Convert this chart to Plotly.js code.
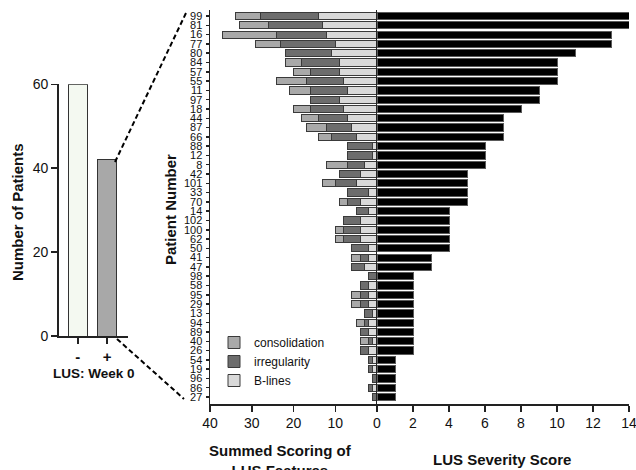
<!DOCTYPE html>
<html>
<head>
<meta charset="utf-8">
<script src="https://cdn.plot.ly/plotly-3.0.1.min.js"></script>
<style>html,body{margin:0;padding:0;background:#fff}#chart{width:636px;height:470px}</style>
</head>
<body>
<div id="chart"></div>
<script>
const patients = ['99','81','16','77','80','84','57','55','11','97','18','44','87','66','88','12','8','42','101','33','70','14','102','100','62','50','41','47','98','58','95','29','13','94','89','40','26','54','19','96','86','27'];
const severity = [14,14,13,13,11,10,10,10,9,9,8,7,7,7,6,6,6,5,5,5,5,4,4,4,4,4,3,3,2,2,2,2,2,2,2,2,2,1,1,1,1,1];
const bLines = [14,13,12,10,11,9,9,8,7,9,8,7,6,5,1,1,3,4,5,2,4,2,4,4,4,2,2,3,0,2,2,2,1,2,2,1,2,1,1,0,1,0];
const irregularity = [14,13,12,13,11,9,7,9,9,7,8,7,6,6,6,6,4,5,5,5,3,3,4,4,4,4,2,3,2,2,2,2,2,1,2,1,2,1,1,1,1,1];
const consolidation = [6,7,13,6,0,4,4,7,5,0,4,4,5,3,0,0,5,0,3,0,2,0,0,2,2,0,2,0,0,0,2,2,0,2,0,2,0,0,0,0,0,0];
const weekCats = ['-','+'];
const weekCounts = [60,42];
const leftTicks = [40,30,20,10,0];
const rightTicks = [2,4,6,8,10,12,14];

const nz = a => a.map(v => v === 0 ? null : v);
const W = 636, H = 470;
const px = x => x / W, py = y => 1 - y / H;
const FONT = 'Liberation Sans, Arial, sans-serif';
const edge = {color:'#3a3a3a', width:1};
const bw = 0.78;

const traces = [
  {type:'bar', orientation:'h', name:'B-lines', y:patients, x:nz(bLines), xaxis:'x', yaxis:'y',
   marker:{color:'#d9d9d9', line:edge}, width:bw, legendrank:3},
  {type:'bar', orientation:'h', name:'irregularity', y:patients, x:nz(irregularity), xaxis:'x', yaxis:'y',
   marker:{color:'#6d6d6d', line:edge}, width:bw, legendrank:2},
  {type:'bar', orientation:'h', name:'consolidation', y:patients, x:nz(consolidation), xaxis:'x', yaxis:'y',
   marker:{color:'#a9a9a9', line:edge}, width:bw, legendrank:1},
  {type:'bar', orientation:'h', name:'severity', y:patients, x:severity, xaxis:'x2', yaxis:'y2',
   marker:{color:'#000', line:{color:'#5a5a5a', width:1}}, width:bw, showlegend:false},
  {type:'bar', x:weekCats, y:weekCounts, xaxis:'x3', yaxis:'y3', showlegend:false, width:0.65,
   marker:{color:['#f4f9f1','#a8a8a8'], line:{color:'#333', width:1}}}
];

const axLine = {showline:true, linecolor:'#222', linewidth:1.5, ticks:'outside', tickcolor:'#222', tickwidth:1.5,
  showgrid:false, zeroline:false, tickfont:{family:FONT, size:14, color:'#111'}};

const ann = (text, x, y, size, angle) => ({text:'<b>'+text+'</b>', xref:'paper', yref:'paper', x:px(x), y:py(y),
  xanchor:'center', yanchor:'middle', textangle:angle||0, showarrow:false, font:{family:FONT, size:size, color:'#111'}});

const layout = {
  width:W, height:H, margin:{l:0,r:0,t:0,b:0}, paper_bgcolor:'#fff', plot_bgcolor:'rgba(0,0,0,0)',
  barmode:'stack', bargap:0.2, font:{family:FONT, color:'#111'},
  xaxis:Object.assign({}, axLine, {domain:[px(210), px(377)], range:[40,0], anchor:'y',
    tickmode:'array', tickvals:leftTicks, ticklen:6}),
  xaxis2:Object.assign({}, axLine, {domain:[px(377), px(629)], range:[0,14], anchor:'y2',
    tickmode:'array', tickvals:rightTicks, ticklen:6, ticklabeloverflow:'allow'}),
  yaxis:Object.assign({}, axLine, {domain:[py(404), py(10)], type:'category', range:[41.75,-0.65],
    anchor:'x', ticklen:3, tickmode:'array', tickvals:patients, ticktext:patients,
    tickfont:{family:'Liberation Sans Narrow, Liberation Sans, Arial, sans-serif', size:11, color:'#111'},
    ticklabelstandoff:1}),
  yaxis2:Object.assign({}, axLine, {domain:[py(404), py(10)], type:'category', range:[41.75,-0.65],
    anchor:'x2', ticks:'', showticklabels:false, linewidth:1.5}),
  xaxis3:Object.assign({}, axLine, {domain:[px(58.7), px(128.3)], type:'category', range:[-0.65,1.72],
    anchor:'y3', ticklen:6, tickfont:{family:FONT, size:15, color:'#111', weight:'bold'}}),
  yaxis3:Object.assign({}, axLine, {domain:[py(336), py(84.3)], range:[0,60], anchor:'x3',
    tickmode:'array', tickvals:[0,20,40,60], ticklen:6}),
  showlegend:true,
  legend:{x:px(214), y:py(328), xanchor:'left', yanchor:'top', bgcolor:'rgba(0,0,0,0)', traceorder:'normal',
    font:{family:FONT, size:12, color:'#111'}, tracegroupgap:0},
  shapes:[
    {type:'line', xref:'paper', yref:'paper', x0:px(115), y0:py(162), x1:px(186), y1:py(13),
     line:{color:'#000', width:2, dash:'5px,3px'}},
    {type:'line', xref:'paper', yref:'paper', x0:px(117), y0:py(339), x1:px(184), y1:py(399),
     line:{color:'#000', width:2, dash:'5px,3px'}}
  ],
  annotations:[
    ann('Patient Number', 170, 210, 15, -90),
    ann('Number of Patients', 17, 212, 15, -90),
    ann('LUS: Week 0', 94, 373, 13.5),
    Object.assign(ann('Summed Scoring of<br>LUS Features', 280, 440, 15), {yanchor:'top'}),
    ann('LUS Severity Score', 502, 459, 15)
  ]
};

Plotly.newPlot('chart', traces, layout, {displayModeBar:false, staticPlot:true});
</script>
</body>
</html>
